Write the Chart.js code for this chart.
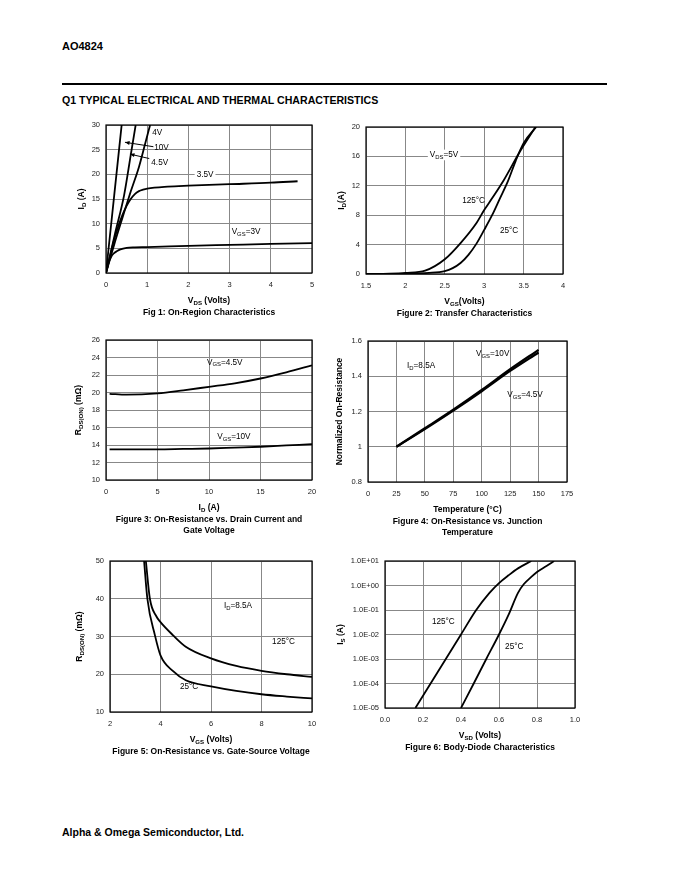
<!DOCTYPE html>
<html lang="en">
<head>
<meta charset="UTF-8">
<title>AO4824 Typical Electrical and Thermal Characteristics</title>
<script src="https://cdn.jsdelivr.net/npm/chart.js"></script>
<style>
  body { margin: 0; background: #fff; font-family: "Liberation Sans", Arial, sans-serif; }
  #page { position: relative; width: 680px; height: 880px; }
  .txt { position: absolute; font-weight: bold; color: #000; white-space: nowrap; }
  canvas { position: absolute; }
</style>
</head>
<body>
<div id="page">
  <div class="txt" style="left:62px; top:40px; font-size:11px;">AO4824</div>
  <div style="position:absolute; left:62px; top:83px; width:545px; height:2px; background:#000;"></div>
  <div class="txt" style="left:62px; top:94px; font-size:10.6px;">Q1 TYPICAL ELECTRICAL AND THERMAL CHARACTERISTICS</div>
  <canvas id="fig1"></canvas>
  <canvas id="fig2"></canvas>
  <canvas id="fig3"></canvas>
  <canvas id="fig4"></canvas>
  <canvas id="fig5"></canvas>
  <canvas id="fig6"></canvas>
  <div class="txt" style="left:62px; top:826px; font-size:10.5px;">Alpha &amp; Omega Semiconductor, Ltd.</div>
</div>
<script>
// ---- data ----
// Fig 1: On-region characteristics
const fig1XTicks = [0, 1, 2, 3, 4, 5];
const fig1YTicks = [0, 5, 10, 15, 20, 25, 30];
const fig1Vds10 = [0, 0.2, 0.38];
const fig1Id10 = [0, 15.8, 30];
const fig1Vds45 = [0, 0.22, 0.44, 0.6, 0.72];
const fig1Id45 = [0, 8, 15.8, 23.9, 30];
const fig1Vds4 = [0, 0.2, 0.4, 0.6, 0.8, 0.95, 1.07];
const fig1Id4 = [0, 5.8, 11.2, 16.5, 21.5, 26.2, 30];
const fig1Vds35 = [0, 0.1, 0.2, 0.3, 0.4, 0.5, 0.6, 0.7, 0.8, 0.9, 1, 1.5, 2, 3, 4, 4.65];
const fig1Id35 = [0, 3.5, 6.8, 9.5, 11.8, 13.6, 15, 16, 16.6, 16.9, 17.1, 17.5, 17.7, 18, 18.3, 18.6];
const fig1Vds3 = [0, 0.06, 0.12, 0.18, 0.26, 0.35, 0.5, 0.7, 1, 2, 3, 4, 5];
const fig1Id3 = [0, 2, 3.2, 3.9, 4.4, 4.8, 5.1, 5.2, 5.25, 5.5, 5.7, 5.9, 6.05];

// Fig 2: Transfer characteristics
const fig2XTicks = [1.5, 2, 2.5, 3, 3.5, 4];
const fig2YTicks = [0, 4, 8, 12, 16, 20];
const fig2Vgs25 = [1.5, 2.0, 2.3, 2.5, 2.6, 2.7, 2.8, 2.9, 3.0, 3.1, 3.2, 3.3, 3.4, 3.5, 3.66];
const fig2Id25 = [0, 0.03, 0.15, 0.4, 0.8, 1.5, 2.6, 4.1, 6.0, 8.0, 10.3, 12.6, 15.4, 17.8, 20];
const fig2Vgs125 = [1.5, 1.8, 2.0, 2.25, 2.5, 2.7, 2.9, 3.0, 3.1, 3.25, 3.45, 3.65];
const fig2Id125 = [0, 0.05, 0.15, 0.45, 2.0, 4.2, 6.9, 8.7, 10.3, 12.8, 16.6, 20];

// Fig 3: On-resistance vs drain current
const fig3XTicks = [0, 5, 10, 15, 20];
const fig3YTicks = [10, 12, 14, 16, 18, 20, 22, 24, 26];
const fig3Id = [0.35, 2, 5, 7.5, 10, 12.5, 15, 17.5, 20];
const fig3R45 = [19.85, 19.75, 19.9, 20.25, 20.65, 21.05, 21.6, 22.3, 23.1];
const fig3R10 = [13.5, 13.5, 13.5, 13.55, 13.6, 13.7, 13.8, 13.95, 14.1];

// Fig 4: On-resistance vs junction temperature
const fig4XTicks = [0, 25, 50, 75, 100, 125, 150, 175];
const fig4YTicks = [0.8, 1, 1.2, 1.4, 1.6];
const fig4T = [25, 50, 75, 100, 125, 150];
const fig4R10 = [1.0, 1.105, 1.21, 1.322, 1.44, 1.55];
const fig4R45 = [1.0, 1.1, 1.205, 1.315, 1.43, 1.535];

// Fig 5: On-resistance vs gate-source voltage
const fig5XTicks = [2, 4, 6, 8, 10];
const fig5YTicks = [10, 20, 30, 40, 50];
const fig5Vgs25 = [3.35, 3.48, 3.78, 4.0, 4.5, 5, 6, 7, 8, 9, 10];
const fig5R25 = [50, 40, 30.3, 25, 20.8, 18.4, 16.8, 15.6, 14.7, 14.1, 13.6];
const fig5Vgs125 = [3.42, 3.58, 3.84, 4, 4.5, 5, 6, 7, 8, 9, 10];
const fig5R125 = [50, 40, 35.3, 33.8, 30.3, 27.3, 24.2, 22.2, 20.9, 20, 19.3];

// Fig 6: Body-diode characteristics
const fig6XTicks = [0, 0.2, 0.4, 0.6, 0.8, 1.0];
const fig6YTicks = [1e-5, 1e-4, 1e-3, 1e-2, 1e-1, 1, 10];
const fig6Vsd125 = [0.16, 0.24, 0.32, 0.4, 0.48, 0.55, 0.6, 0.65, 0.7, 0.77];
const fig6Is125 = [1e-5, 1e-4, 1e-3, 1e-2, 1e-1, 0.5, 1.26, 2.6, 5, 10];
const fig6Vsd25 = [0.4, 0.467, 0.533, 0.6, 0.65, 0.7, 0.73, 0.77, 0.8, 0.85, 0.89];
const fig6Is25 = [1e-5, 1e-4, 1e-3, 1e-2, 0.063, 0.5, 1.12, 2.24, 3.55, 6.3, 10];

// ---- drawing helpers ----
const FONT = '"Liberation Sans", Arial, sans-serif';
Chart.defaults.font.family = FONT;
Chart.defaults.color = '#222';

function richParts(s) {
  const out = [];
  const re = /_\{([^}]*)\}/g;
  let last = 0, m;
  while ((m = re.exec(s))) {
    if (m.index > last) out.push({ t: s.slice(last, m.index), sub: false });
    out.push({ t: m[1], sub: true });
    last = re.lastIndex;
  }
  if (last < s.length) out.push({ t: s.slice(last), sub: false });
  return out;
}

function drawRich(ctx, s, x, y, size, bold, align, bg) {
  const parts = richParts(s);
  const fnt = (sz) => (bold ? 'bold ' : '') + sz + 'px ' + FONT;
  let w = 0;
  parts.forEach(p => { ctx.font = fnt(p.sub ? size * 0.72 : size); p.w = ctx.measureText(p.t).width; w += p.w; });
  let x0 = align === 'center' ? x - w / 2 : (align === 'right' ? x - w : x);
  if (bg) { ctx.fillStyle = '#fff'; ctx.fillRect(x0 - 2, y - size * 0.65, w + 4, size * 1.3); }
  ctx.fillStyle = '#000';
  ctx.textBaseline = 'middle';
  ctx.textAlign = 'left';
  parts.forEach(p => {
    ctx.font = fnt(p.sub ? size * 0.72 : size);
    ctx.fillText(p.t, x0, p.sub ? y + size * 0.25 : y);
    x0 += p.w;
  });
}

const decor = {
  id: 'decor',
  afterDatasetsDraw(chart) {
    const o = chart.options.plugins.decor;
    const ctx = chart.ctx, a = chart.chartArea;
    const sx = chart.scales.x, sy = chart.scales.y;
    ctx.save();
    ctx.strokeStyle = '#000';
    ctx.lineWidth = 1.2;
    ctx.strokeRect(a.left, a.top, a.right - a.left, a.bottom - a.top);
    (o.arrows || []).forEach(ar => {
      const x1 = sx.getPixelForValue(ar[0]), y1 = sy.getPixelForValue(ar[1]);
      const x2 = sx.getPixelForValue(ar[2]), y2 = sy.getPixelForValue(ar[3]);
      ctx.lineWidth = 1;
      ctx.beginPath(); ctx.moveTo(x1, y1); ctx.lineTo(x2, y2); ctx.stroke();
      const ang = Math.atan2(y2 - y1, x2 - x1);
      ctx.beginPath();
      ctx.moveTo(x2, y2);
      ctx.lineTo(x2 - 5 * Math.cos(ang - 0.4), y2 - 5 * Math.sin(ang - 0.4));
      ctx.lineTo(x2 - 5 * Math.cos(ang + 0.4), y2 - 5 * Math.sin(ang + 0.4));
      ctx.closePath(); ctx.fillStyle = '#000'; ctx.fill();
    });
    // n = [text, x, y, whiteBackground]
    (o.notes || []).forEach(n => {
      drawRich(ctx, n[0], sx.getPixelForValue(n[1]), sy.getPixelForValue(n[2]), 8.2, false, 'left', !!n[3]);
    });
    const cx = (a.left + a.right) / 2, cy = (a.top + a.bottom) / 2;
    drawRich(ctx, o.xTitle, cx, a.bottom + 28, 8.5, true, 'center', false);
    ctx.save();
    ctx.translate(a.left - o.yTitleOff, cy);
    ctx.rotate(-Math.PI / 2);
    drawRich(ctx, o.yTitle, 0, 0, 8.5, true, 'center', false);
    ctx.restore();
    o.caption.forEach((line, i) => drawRich(ctx, line, cx, a.bottom + 40 + i * 11, 8.5, true, 'center', false));
    ctx.restore();
  }
};

function zeroPad(s) { s.paddingLeft = 0; s.paddingRight = 0; s.paddingTop = 0; s.paddingBottom = 0; }

function series(xs, ys, w) {
  return {
    data: xs.map((v, i) => ({ x: v, y: ys[i] })),
    borderColor: '#000', borderWidth: w || 1.8, pointRadius: 0, fill: false,
    cubicInterpolationMode: 'monotone'
  };
}

function makeChart(id, cell, plot, o) {
  const cv = document.getElementById(id);
  cv.width = cell.w; cv.height = cell.h;
  cv.style.left = cell.x + 'px'; cv.style.top = cell.y + 'px';
  cv.style.width = cell.w + 'px'; cv.style.height = cell.h + 'px';
  const yW = plot.l - cell.x, padT = plot.t - cell.y, padR = cell.x + cell.w - plot.r, xH = cell.y + cell.h - plot.b;
  const grid = { color: '#888', lineWidth: 1, drawTicks: false };
  new Chart(cv, {
    type: 'line',
    data: { datasets: o.datasets },
    options: {
      responsive: false, animation: false,
      layout: { padding: { top: padT, right: padR, left: 0, bottom: 0 } },
      plugins: {
        legend: { display: false }, tooltip: { enabled: false },
        decor: { xTitle: o.xTitle, yTitle: o.yTitle, yTitleOff: o.yTitleOff, caption: o.caption, notes: o.notes, arrows: o.arrows }
      },
      scales: {
        x: {
          type: 'linear', min: o.xTicks[0], max: o.xTicks[o.xTicks.length - 1],
          afterBuildTicks: s => { s.ticks = o.xTicks.map(v => ({ value: v })); },
          afterFit: s => { s.height = xH; zeroPad(s); },
          ticks: { autoSkip: false, maxRotation: 0, padding: 7, font: { size: 7.5 }, callback: o.xFmt || (v => String(v)) },
          grid: grid, border: { display: false }
        },
        y: {
          type: o.yLog ? 'logarithmic' : 'linear', min: o.yTicks[0], max: o.yTicks[o.yTicks.length - 1],
          afterBuildTicks: s => { s.ticks = o.yTicks.map(v => ({ value: v })); },
          afterFit: s => { s.width = yW; zeroPad(s); },
          ticks: { autoSkip: false, padding: 6, font: { size: 7.5 }, callback: o.yFmt || (v => String(v)) },
          grid: grid, border: { display: false }
        }
      }
    },
    plugins: [decor]
  });
}

const leftX = 55, leftW = 270, rightX = 325, rightW = 275;

makeChart('fig1', { x: leftX, y: 110, w: leftW, h: 215 }, { l: 106, t: 125, r: 312, b: 273 }, {
  datasets: [
    series(fig1Vds10, fig1Id10), series(fig1Vds45, fig1Id45), series(fig1Vds4, fig1Id4),
    series(fig1Vds35, fig1Id35), series(fig1Vds3, fig1Id3)
  ],
  xTicks: fig1XTicks, yTicks: fig1YTicks,
  xTitle: 'V_{DS} (Volts)', yTitle: 'I_{D} (A)', yTitleOff: 24,
  caption: ['Fig 1: On-Region Characteristics'],
  notes: [['4V', 1.12, 28.4], ['10V', 1.17, 25.4], ['4.5V', 1.1, 22.4], ['3.5V', 2.2, 20, true], ['V_{GS}=3V', 3.05, 8.3]],
  arrows: [[1.15, 25.6, 0.46, 26.5], [1.05, 23.2, 0.58, 24.1]]
});

makeChart('fig2', { x: rightX, y: 110, w: rightW, h: 215 }, { l: 366, t: 127, r: 563, b: 274 }, {
  datasets: [series(fig2Vgs25, fig2Id25), series(fig2Vgs125, fig2Id125)],
  xTicks: fig2XTicks, yTicks: fig2YTicks,
  xTitle: 'V_{GS}(Volts)', yTitle: 'I_{D}(A)', yTitleOff: 24,
  caption: ['Figure 2: Transfer Characteristics'],
  notes: [['V_{DS}=5V', 2.31, 16.2, true], ['125°C', 2.72, 10], ['25°C', 3.2, 5.85]]
});

makeChart('fig3', { x: leftX, y: 330, w: leftW, h: 212 }, { l: 106, t: 340, r: 312, b: 480 }, {
  datasets: [series(fig3Id, fig3R45), series(fig3Id, fig3R10)],
  xTicks: fig3XTicks, yTicks: fig3YTicks,
  xTitle: 'I_{D} (A)', yTitle: 'R_{DS(ON)} (mΩ)', yTitleOff: 27,
  caption: ['Figure 3: On-Resistance vs. Drain Current and', 'Gate Voltage'],
  notes: [['V_{GS}=4.5V', 9.8, 23.4], ['V_{GS}=10V', 10.8, 14.9]]
});

makeChart('fig4', { x: rightX, y: 330, w: rightW, h: 212 }, { l: 368, t: 341, r: 567, b: 482 }, {
  datasets: [series(fig4T, fig4R10, 2.2), series(fig4T, fig4R45, 2.2)],
  xTicks: fig4XTicks, yTicks: fig4YTicks,
  yFmt: v => String(+v.toFixed(1)),
  xTitle: 'Temperature (°C)', yTitle: 'Normalized On-Resistance', yTitleOff: 28,
  caption: ['Figure 4: On-Resistance vs. Junction', 'Temperature'],
  notes: [['I_{D}=8.5A', 34.3, 1.458], ['V_{GS}=10V', 95, 1.526], ['V_{GS}=4.5V', 122.4, 1.293]]
});

makeChart('fig5', { x: leftX, y: 550, w: leftW, h: 212 }, { l: 110, t: 561, r: 312, b: 712 }, {
  datasets: [series(fig5Vgs25, fig5R25), series(fig5Vgs125, fig5R125)],
  xTicks: fig5XTicks, yTicks: fig5YTicks,
  xTitle: 'V_{GS} (Volts)', yTitle: 'R_{DS(ON)} (mΩ)', yTitleOff: 30,
  caption: ['Figure 5: On-Resistance vs. Gate-Source Voltage'],
  notes: [['I_{D}=8.5A', 6.51, 38.1], ['125°C', 8.42, 28.6], ['25°C', 4.77, 16.6]]
});

makeChart('fig6', { x: rightX, y: 550, w: rightW, h: 212 }, { l: 385, t: 561, r: 575, b: 708 }, {
  datasets: [series(fig6Vsd125, fig6Is125), series(fig6Vsd25, fig6Is25)],
  xTicks: fig6XTicks, yTicks: fig6YTicks, yLog: true,
  xFmt: v => v.toFixed(1),
  yFmt: v => { const e = Math.round(Math.log10(v)); return '1.0E' + (e < 0 ? '-' : '+') + String(Math.abs(e)).padStart(2, '0'); },
  xTitle: 'V_{SD} (Volts)', yTitle: 'I_{S} (A)', yTitleOff: 44,
  caption: ['Figure 6: Body-Diode Characteristics'],
  notes: [['125°C', 0.247, 0.032], ['25°C', 0.632, 0.0031]]
});
</script>
</body>
</html>
